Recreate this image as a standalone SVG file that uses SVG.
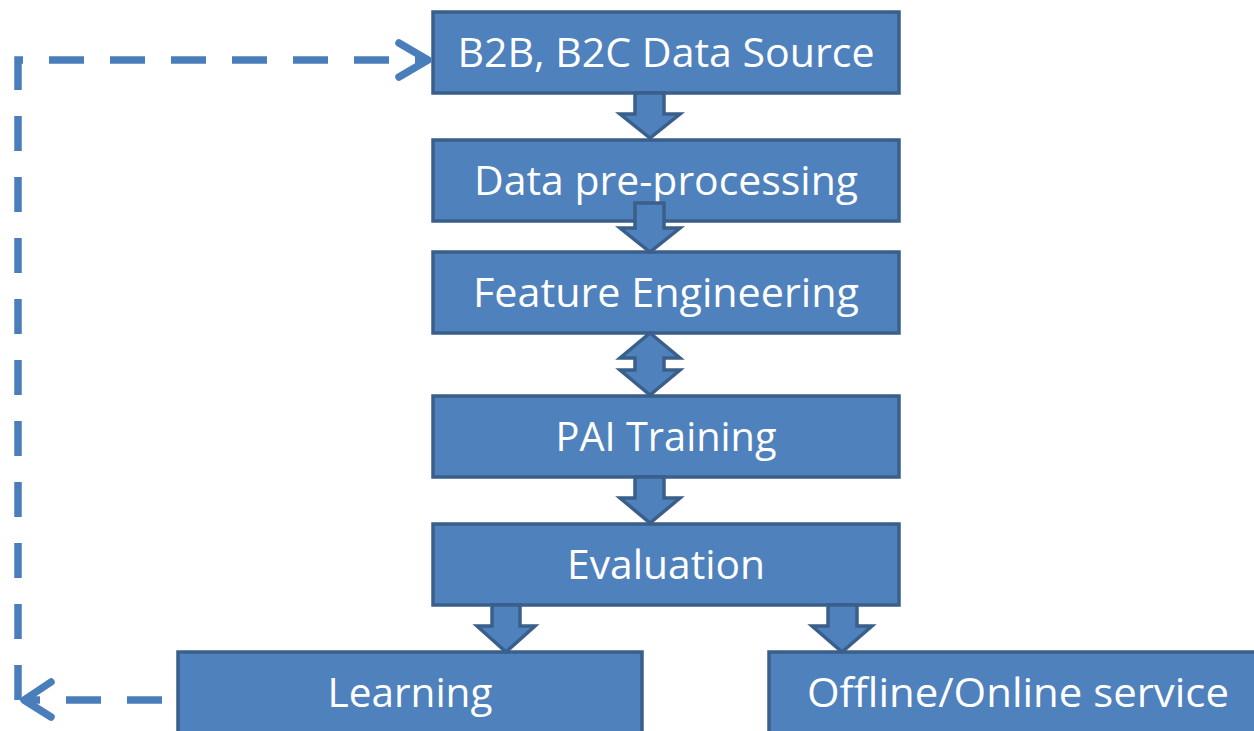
<svg xmlns="http://www.w3.org/2000/svg" width="1254" height="731" viewBox="0 0 1254 731">
<style>
.box{fill:#4F81BD;stroke:#3A5F8B;stroke-width:3.5}
.lbl{fill:#fff;font-family:"Open Sans","Liberation Sans",sans-serif;font-size:41px;text-anchor:middle}
.blk{fill:#4F81BD;stroke:#3A5F8B;stroke-width:3.5;stroke-linejoin:miter}
.dash{fill:none;stroke:#4A7EBB;stroke-width:7.5;stroke-dasharray:35 26}
.head{fill:none;stroke:#4A7EBB;stroke-width:7.5;stroke-linecap:round;stroke-linejoin:round}
</style>
<rect width="1254" height="731" fill="#fff"/>
<g id="n1"><rect class="box" x="433" y="12" width="466" height="81"/><text class="lbl" x="666" y="67" textLength="417" lengthAdjust="spacingAndGlyphs">B2B, B2C Data Source</text></g>
<g id="n2"><rect class="box" x="433" y="140" width="466" height="81"/><text class="lbl" x="666" y="195" textLength="384" lengthAdjust="spacingAndGlyphs">Data pre-processing</text></g>
<g id="n3"><rect class="box" x="433" y="252" width="466" height="81"/><text class="lbl" x="666" y="307" textLength="386" lengthAdjust="spacingAndGlyphs">Feature Engineering</text></g>
<g id="n4"><rect class="box" x="433" y="396" width="466" height="81"/><text class="lbl" x="666" y="451" textLength="221" lengthAdjust="spacingAndGlyphs">PAI Training</text></g>
<g id="n5"><rect class="box" x="433" y="524" width="466" height="81"/><text class="lbl" x="666" y="579" textLength="198" lengthAdjust="spacingAndGlyphs">Evaluation</text></g>
<g id="n6"><rect class="box" x="178" y="652" width="464" height="90"/><text class="lbl" x="410" y="707" textLength="165" lengthAdjust="spacingAndGlyphs">Learning</text></g>
<g id="n7"><rect class="box" x="769" y="652" width="500" height="90"/><text class="lbl" x="1018" y="707" textLength="422" lengthAdjust="spacingAndGlyphs">Offline/Online service</text></g>
<g id="connectors">
<polygon class="blk" points="635,93 664,93 664,114 680,114 650,138 620,114 635,114"/>
<polygon class="blk" points="635,203 664,203 664,228 680,228 650,252 620,228 635,228"/>
<polygon class="blk" points="650,333 680,358 664,358 664,370 680,370 650,395 620,370 635,370 635,358 620,358"/>
<polygon class="blk" points="635,477 664,477 664,498 680,498 650,523 620,498 635,498"/>
<polygon class="blk" points="492,605 520,605 520,626 535,626 506,652 477,626 492,626"/>
<polygon class="blk" points="828,605 857,605 857,626 872,626 842,652 812,626 828,626"/>
<path class="dash" d="M162,700 H26"/>
<path class="head" d="M51,682 L24,700 L51,717"/>
<path class="dash" d="M18,700 V60 H428"/>
<path class="head" d="M399,43 L428,60 L399,77"/>
</g>
</svg>
